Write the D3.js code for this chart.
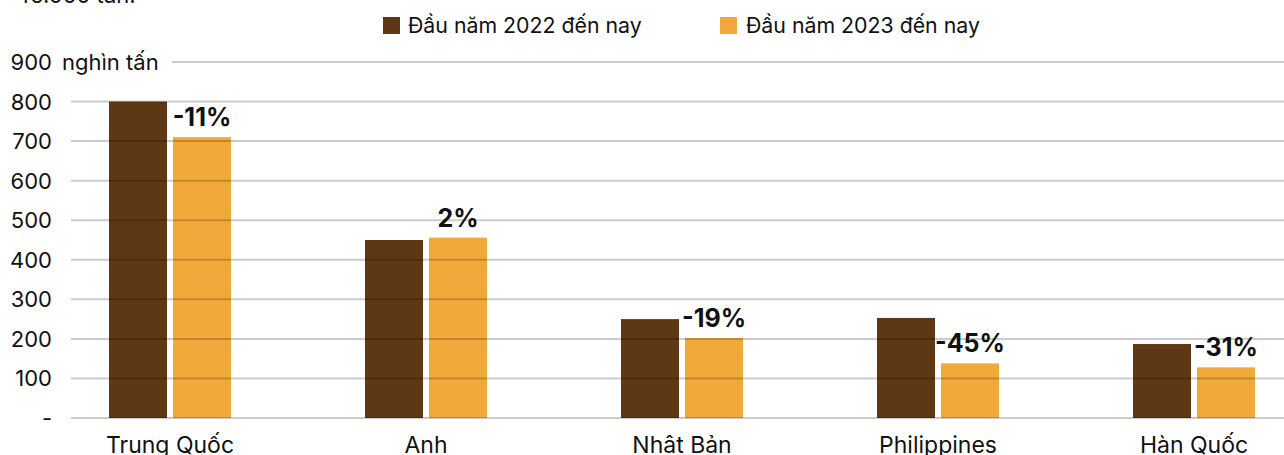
<!DOCTYPE html>
<html><head><meta charset="utf-8">
<script src="https://cdn.jsdelivr.net/npm/d3@7"></script>
<style>
html,body{margin:0;padding:0;background:#fff;overflow:hidden}
text{font-family:Inter,"Liberation Sans",sans-serif;fill:#111}
</style></head>
<body><svg id="c" width="1284" height="455"></svg>
<script>
const categories = ["Trung Quốc","Anh","Nhật Bản","Philippines","Hàn Quốc"];
const series2022 = [800,450,250,253,187];
const series2023 = [710,456,202,138,128];
const changeLabels = ["-11%","2%","-19%","-45%","-31%"];
const seriesNames = ["Đầu năm 2022 đến nay","Đầu năm 2023 đến nay"];
const yTicks = [0,100,200,300,400,500,600,700,800,900];
const unitLabel = "nghìn tấn";
const topNote = "45.000 tấn.";
const colors = ["#5e3815","#f2a93b"];

const svg = d3.select("#c");
const y = d3.scaleLinear().domain([0,900]).range([418,62]);
const x = d3.scaleBand().domain(categories).range([42,1322]).padding(0);
const barW = 58, gap = 6;

svg.append("text").attr("x",16).attr("y",3).attr("font-size",22).text(topNote);

const lg = svg.append("g");
[[383,408],[720,746]].forEach((p,i)=>{
  lg.append("rect").attr("x",p[0]).attr("y",17).attr("width",17).attr("height",17).attr("fill",colors[i]);
  lg.append("text").attr("x",p[1]).attr("y",33).attr("font-size",21.3).text(seriesNames[i]);
});

const g = svg.append("g");
categories.forEach((c,i)=>{
  const cx = x(c)+x.bandwidth()/2;
  g.append("rect").attr("x",cx-gap/2-barW).attr("y",y(series2022[i])).attr("width",barW)
    .attr("height",y(0)-y(series2022[i])).attr("fill",colors[0]);
  g.append("rect").attr("x",cx+gap/2).attr("y",y(series2023[i])).attr("width",barW)
    .attr("height",y(0)-y(series2023[i])).attr("fill",colors[1]);
});

yTicks.forEach(t=>{
  svg.append("line").attr("x1", t===900?172:71).attr("x2",1284)
    .attr("y1",y(t)).attr("y2",y(t)).attr("stroke","rgba(0,0,0,0.2)").attr("stroke-width",2);
});

yTicks.forEach(t=>{
  svg.append("text").attr("x",52).attr("y",y(t)+8).attr("text-anchor","end").attr("font-size",22)
    .text(t===0?"-":t);
});
svg.append("text").attr("x",62).attr("y",y(900)+8).attr("font-size",22).text(unitLabel);

categories.forEach((c,i)=>{
  const cx = x(c)+x.bandwidth()/2 + gap/2 + barW/2;
  svg.append("text").attr("x",cx).attr("y",y(series2023[i])-11).attr("text-anchor","middle")
    .attr("font-size",25).attr("font-weight",700).text(changeLabels[i]);
});

categories.forEach(c=>{
  svg.append("text").attr("x",x(c)+x.bandwidth()/2).attr("y",453).attr("text-anchor","middle")
    .attr("font-size",23).text(c);
});
</script></body></html>
